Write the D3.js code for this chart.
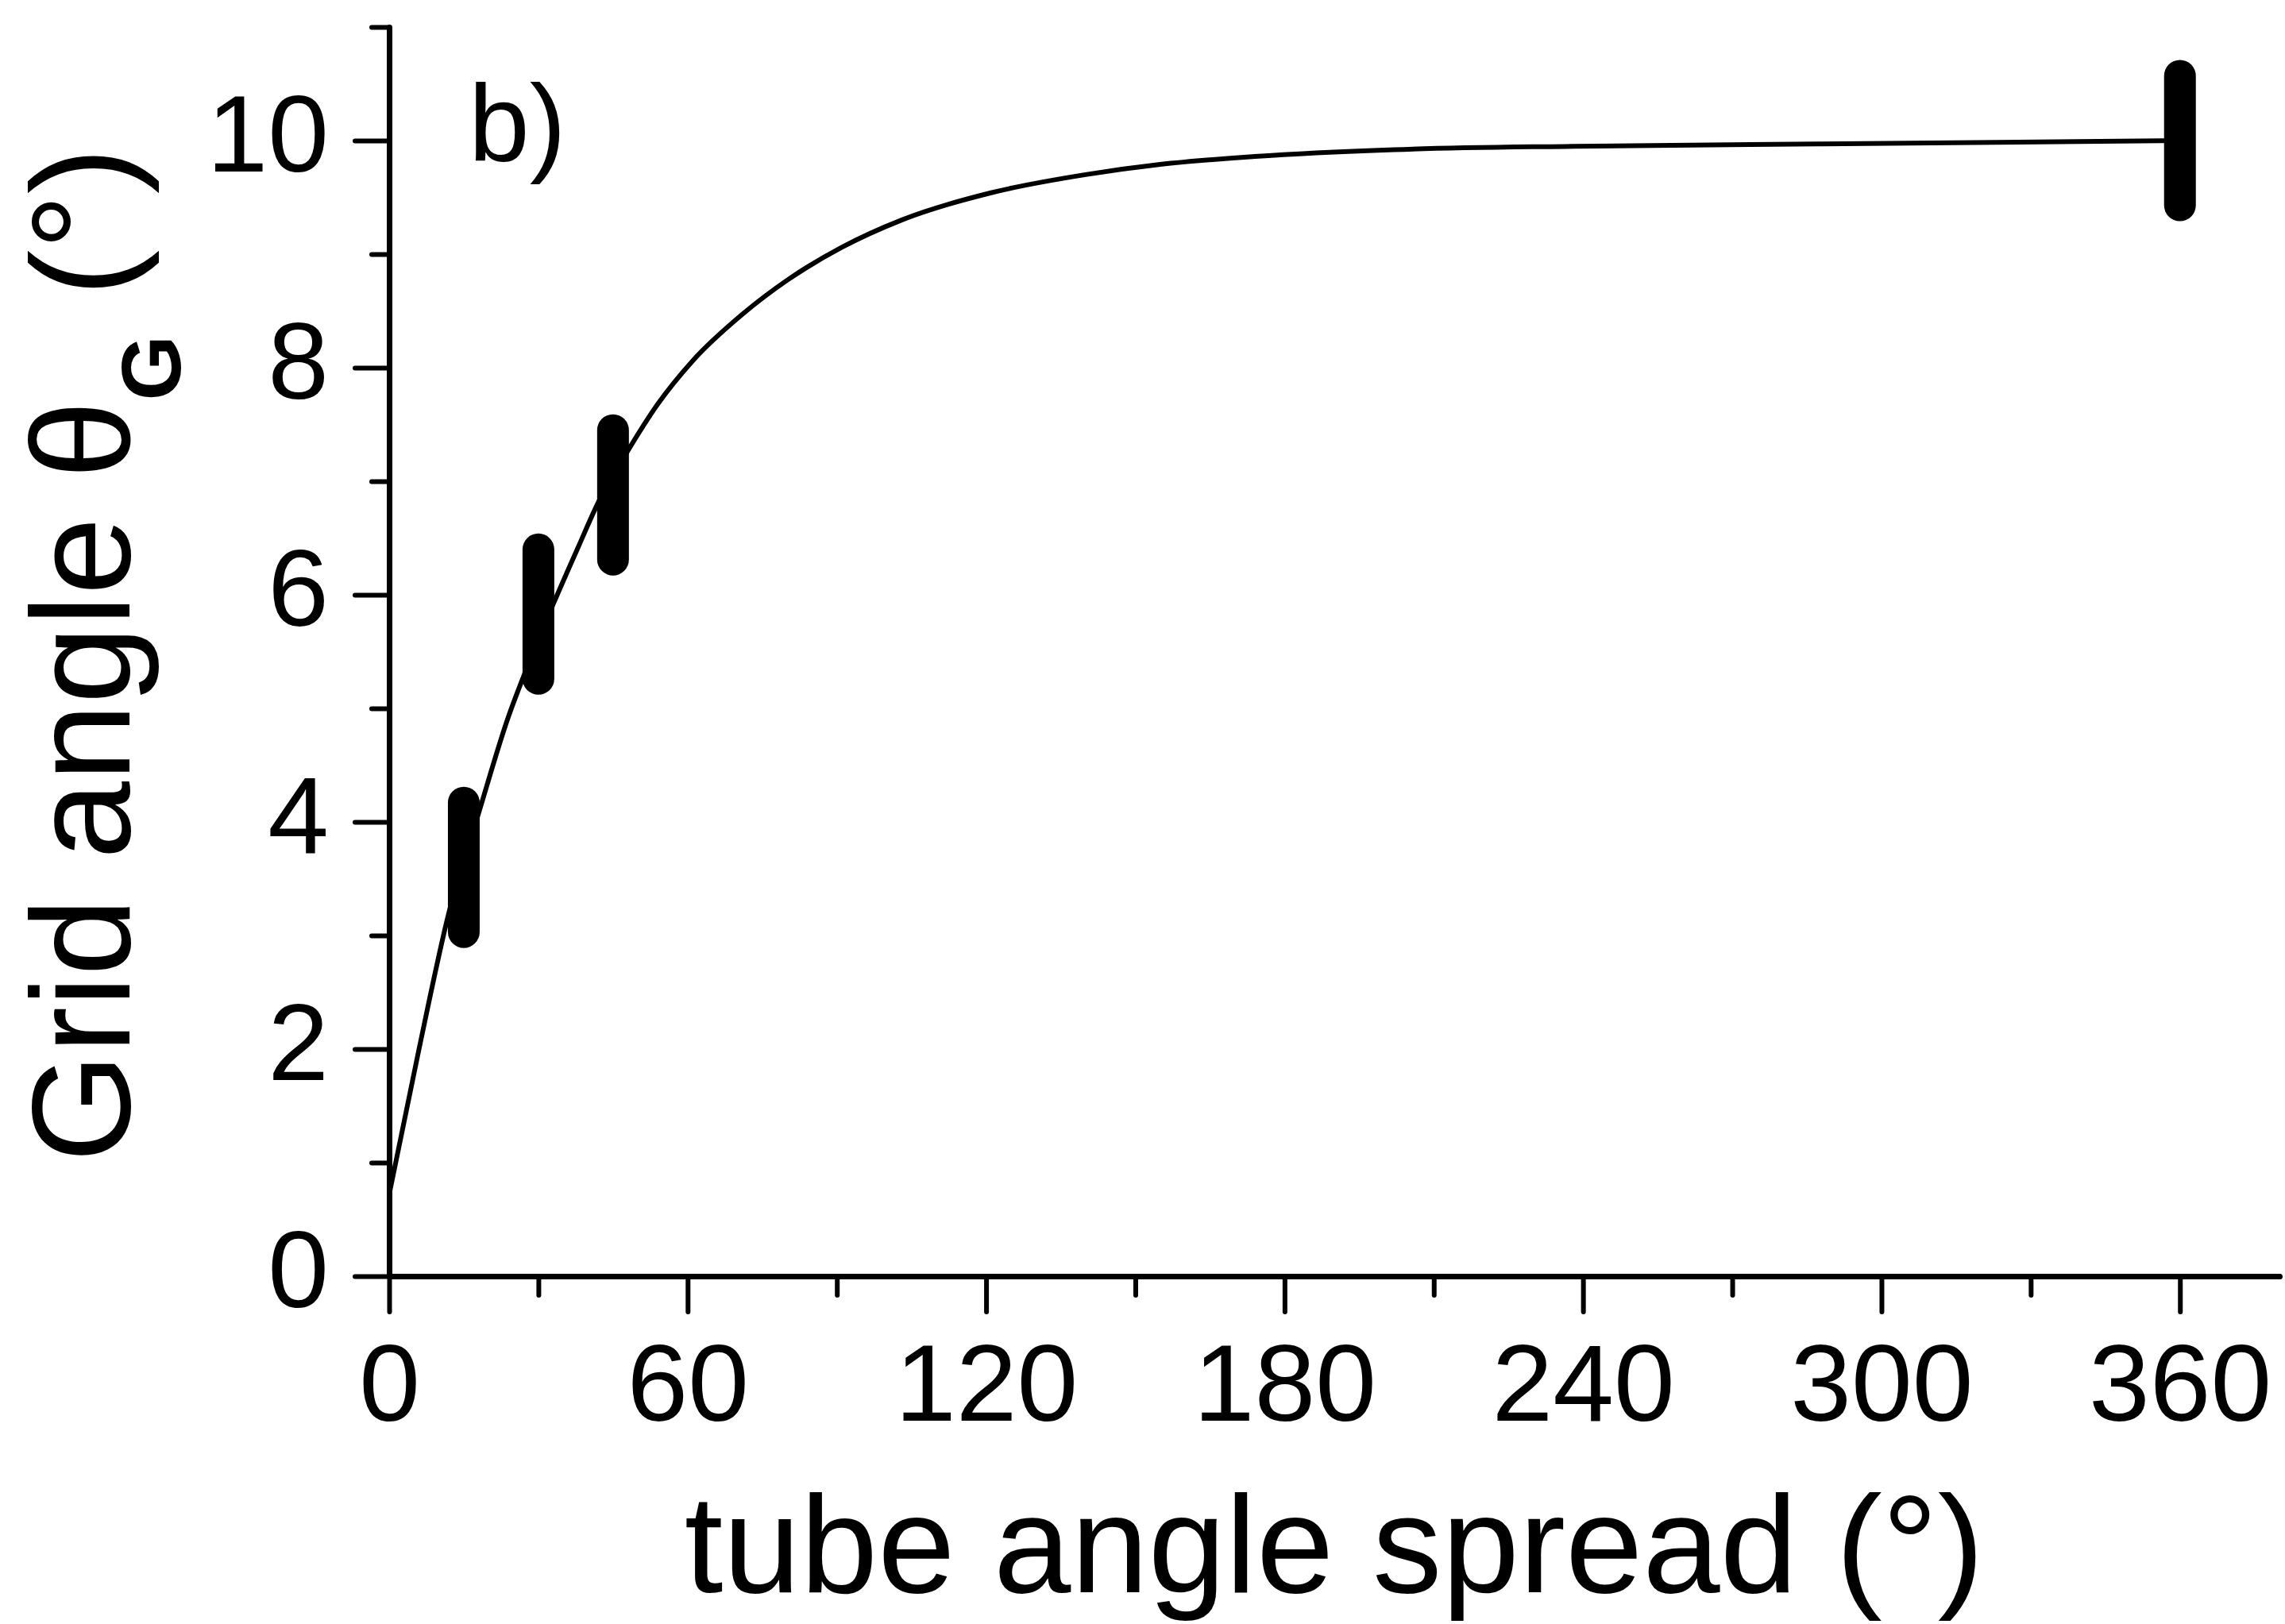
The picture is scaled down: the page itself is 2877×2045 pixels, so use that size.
<!DOCTYPE html>
<html>
<head>
<meta charset="utf-8">
<script src="https://cdn.jsdelivr.net/npm/d3@7"></script>
<style>
  html, body { margin: 0; padding: 0; background: #fff; }
  svg { display: block; }
  text { font-family: "Liberation Sans", Arial, Helvetica, sans-serif; fill: #000; }
</style>
</head>
<body>
<svg id="chart" width="2877" height="2045"></svg>
<script>
// Model curve: grid angle vs. tube angle spread
const spreadDeg  = [0, 6, 12, 18, 24, 27, 33, 38, 42, 48, 54, 61, 71, 80, 91, 103, 121, 140, 155, 174, 202, 238, 288, 360];
const gridAngle  = [0.72, 2.0, 3.2, 4.08, 4.93, 5.28, 5.92, 6.42, 6.81, 7.27, 7.68, 8.06, 8.47, 8.77, 9.06, 9.3, 9.54, 9.7, 9.79, 9.86, 9.92, 9.95, 9.97, 10.0];

// Measured values with their spread
const measSpread = [15, 30, 45, 360];
const measAngle  = [3.6, 5.83, 6.88, 10.0];
const measErr    = [0.57, 0.57, 0.57, 0.57];

// Axis ticks
const xMajorTicks = [0, 60, 120, 180, 240, 300, 360];
const xMinorTicks = [30, 90, 150, 210, 270, 330];
const yMajorTicks = [0, 2, 4, 6, 8, 10];
const yMinorTicks = [1, 3, 5, 7, 9, 11];

const svg = d3.select("#chart");

const x = d3.scaleLinear().domain([0, 380]).range([490, 2870]);
const y = d3.scaleLinear().domain([0, 11]).range([1607, 34]);

const AXIS_W = 7, TICK_W = 6;

// ---- axes ----
function styleAxis(g) {
  g.select(".domain").attr("stroke", "#000").attr("stroke-width", AXIS_W).attr("stroke-linecap", "round");
  g.selectAll(".tick line").attr("stroke", "#000").attr("stroke-width", TICK_W).attr("stroke-linecap", "round");
}

// x minor ticks
svg.append("g")
  .attr("transform", `translate(0,${y(0)})`)
  .call(d3.axisBottom(x).tickValues(xMinorTicks).tickSize(24).tickSizeOuter(0).tickFormat(""))
  .call(styleAxis)
  .call(g => g.select(".domain").remove());

// x major ticks + labels
svg.append("g")
  .attr("transform", `translate(0,${y(0)})`)
  .call(d3.axisBottom(x).tickValues(xMajorTicks).tickSize(45).tickSizeOuter(0).tickPadding(39).tickFormat(d3.format("d")))
  .call(styleAxis)
  .call(g => g.selectAll(".tick text")
      .attr("font-size", 138)
      .attr("font-family", "Liberation Sans, Arial, sans-serif")
      .attr("fill", "#000"));

// y minor ticks
svg.append("g")
  .attr("transform", `translate(${x(0)},0)`)
  .call(d3.axisLeft(y).tickValues(yMinorTicks).tickSize(22).tickSizeOuter(0).tickFormat(""))
  .call(styleAxis)
  .call(g => g.select(".domain").remove());

// y major ticks + labels
svg.append("g")
  .attr("transform", `translate(${x(0)},0)`)
  .call(d3.axisLeft(y).tickValues(yMajorTicks).tickSize(43).tickSizeOuter(0).tickPadding(33).tickFormat(d3.format("d")))
  .call(styleAxis)
  .call(g => g.selectAll(".tick text")
      .attr("font-size", 138)
      .attr("dy", "0.28em")
      .attr("font-family", "Liberation Sans, Arial, sans-serif")
      .attr("fill", "#000"));

// ---- model curve ----
const curve = d3.line()
  .x((d, i) => x(spreadDeg[i]))
  .y((d, i) => y(gridAngle[i]))
  .curve(d3.curveMonotoneX);

svg.append("path")
  .datum(spreadDeg)
  .attr("d", curve)
  .attr("fill", "none")
  .attr("stroke", "#000")
  .attr("stroke-width", 6)
  .attr("stroke-linejoin", "round");

// ---- measured ranges ----
svg.append("g")
  .selectAll("line")
  .data(measSpread)
  .join("line")
  .attr("x1", (d) => x(d))
  .attr("x2", (d) => x(d))
  .attr("y1", (d, i) => y(measAngle[i] - measErr[i]))
  .attr("y2", (d, i) => y(measAngle[i] + measErr[i]))
  .attr("stroke", "#000")
  .attr("stroke-width", 40)
  .attr("stroke-linecap", "round");

// ---- panel label ----
svg.append("text")
  .attr("x", 590)
  .attr("y", 203)
  .attr("font-size", 138)
  .text("b)");

// ---- axis titles ----
svg.append("text")
  .attr("x", (x(0) + x(380)) / 2)
  .attr("y", 2005)
  .attr("text-anchor", "middle")
  .attr("font-size", 175)
  .text("tube angle spread (°)");

const yTitle = svg.append("text")
  .attr("transform", `translate(163,${(y(0) + y(11)) / 2 + 4}) rotate(-90)`)
  .attr("text-anchor", "middle")
  .attr("font-size", 176);
yTitle.append("tspan").text("Grid angle θ");
yTitle.append("tspan").attr("dy", 64).attr("font-size", 106).attr("font-weight", "bold").text("G");
yTitle.append("tspan").attr("dy", -64).text(" (°)");
</script>
</body>
</html>
